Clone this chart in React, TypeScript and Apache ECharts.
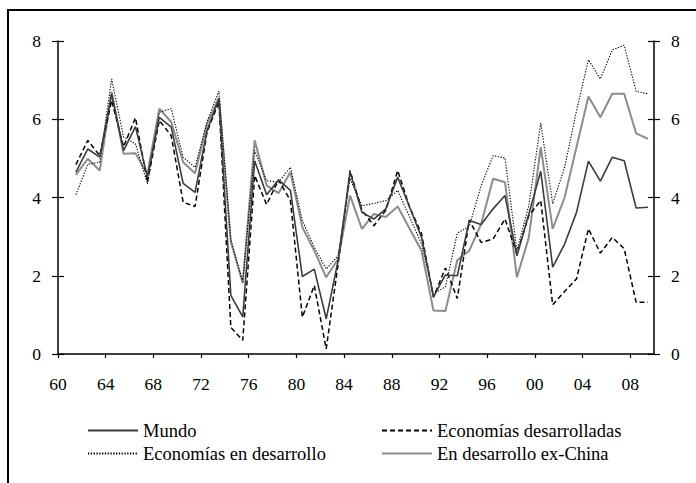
import React, { useEffect, useRef } from "react";
import * as echarts from "echarts";

const years = [
  1961, 1962, 1963, 1964, 1965, 1966, 1967, 1968, 1969, 1970,
  1971, 1972, 1973, 1974, 1975, 1976, 1977, 1978, 1979, 1980,
  1981, 1982, 1983, 1984, 1985, 1986, 1987, 1988, 1989, 1990,
  1991, 1992, 1993, 1994, 1995, 1996, 1997, 1998, 1999, 2000,
  2001, 2002, 2003, 2004, 2005, 2006, 2007, 2008, 2009,
];

const mundo = [
  4.65, 5.24, 5.03, 6.65, 5.2, 5.81, 4.52, 6.05, 5.8, 4.36,
  4.13, 5.71, 6.52, 1.5, 0.95, 4.94, 4.07, 4.45, 4.18, 1.98,
  2.17, 0.9, 2.39, 4.65, 3.62, 3.45, 3.71, 4.52, 3.75, 2.98,
  1.46, 2.02, 2.0, 3.41, 3.31, 3.71, 4.05, 2.51, 3.58, 4.67,
  2.22, 2.81, 3.62, 4.93, 4.42, 5.03, 4.94, 3.73, 3.75,
];

const desarrolladas = [
  4.84, 5.46, 5.07, 6.48, 5.3, 6.04, 4.39, 5.97, 5.58, 3.88,
  3.77, 5.67, 6.44, 0.68, 0.35, 4.56, 3.82, 4.45, 3.92, 0.94,
  1.75, 0.13, 2.3, 4.69, 3.67, 3.28, 3.67, 4.69, 3.75, 3.07,
  1.45, 2.2, 1.42, 3.42, 2.85, 2.94, 3.45, 2.56, 3.54, 3.92,
  1.26, 1.6, 1.92, 3.2, 2.58, 2.98, 2.69, 1.32, 1.32,
];

const enDesarrollo = [
  4.07, 4.85, 4.9, 7.03, 5.55, 5.37, 4.35, 6.18, 6.27, 5.03,
  4.77, 5.93, 6.72, 2.92, 1.85, 5.2, 4.43, 4.39, 4.77, 3.41,
  2.73, 2.17, 2.51, 4.48, 3.79, 3.85, 3.92, 4.18, 3.5, 2.81,
  1.53, 1.72, 3.09, 3.26, 4.3, 5.07, 5.01, 2.64, 3.8, 5.9,
  3.84, 4.77, 6.22, 7.52, 7.03, 7.77, 7.89, 6.71, 6.65,
];

const exChina = [
  4.58, 4.99, 4.69, 6.7, 5.12, 5.13, 4.6, 6.27, 5.93, 4.9,
  4.62, 5.88, 6.55, 2.87, 1.81, 5.46, 4.31, 4.11, 4.65, 3.24,
  2.64, 1.96, 2.43, 4.05, 3.2, 3.58, 3.5, 3.77, 3.2, 2.64,
  1.11, 1.1, 2.4, 2.64, 3.32, 4.48, 4.39, 1.96, 2.98, 5.29,
  3.2, 4.0, 5.29, 6.58, 6.05, 6.65, 6.65, 5.64, 5.5,
];

const seriesNames = [
  "Mundo",
  "Economías desarrolladas",
  "Economías en desarrollo",
  "En desarrollo ex-China",
];

const FONT = "Liberation Serif";

function pts(values: number[]) {
  return values.map((v, i) => [years[i] + 0.5, v]);
}

export default function App() {
  const ref = useRef<HTMLDivElement>(null);
  useEffect(() => {
    if (!ref.current) return;
    const chart = echarts.init(ref.current, null, { renderer: "svg" });
    const yBase = {
      type: "value",
      min: 0,
      max: 8,
      interval: 2,
      splitLine: { show: false },
    };
    const legendBase = {
      orient: "vertical",
      top: 421,
      itemWidth: 50,
      itemHeight: 14,
      itemGap: 4,
      padding: 0,
      itemStyle: { color: "transparent", borderWidth: 0, opacity: 0 },
      textStyle: { fontFamily: FONT, fontSize: 18.5, lineHeight: 18, color: "#000", padding: [0, 0, 0, 0] },
    };
    const option: any = {
      animation: false,
      backgroundColor: "#fff",
      textStyle: { fontFamily: FONT },
      grid: { left: 58, right: 42, top: 41, bottom: 129, containLabel: false },
      xAxis: {
        type: "value",
        min: 1960,
        max: 2010,
        interval: 4,
        splitLine: { show: false },
        axisLine: { show: true, lineStyle: { color: "#000", width: 1.5 } },
        axisTick: { show: true, inside: false, length: 4, lineStyle: { color: "#000", width: 1.2 } },
        axisLabel: {
          show: true,
          margin: 21,
          fontFamily: FONT,
          fontSize: 17.5,
          color: "#000",
          showMaxLabel: false,
          formatter: (v: number) =>
            v % 4 === 0 ? String(v % 100).padStart(2, "0") : "",
        },
      },
      yAxis: [
        {
          ...yBase,
          position: "left",
          axisLine: { show: true, lineStyle: { color: "#000", width: 1.5 } },
          axisTick: { show: true, inside: true, length: 6, lineStyle: { color: "#000", width: 1.2 } },
          axisLabel: { show: true, margin: 17, fontFamily: FONT, fontSize: 17.5, color: "#000" },
        },
        {
          ...yBase,
          position: "right",
          axisLine: { show: true, lineStyle: { color: "#000", width: 1.5 } },
          axisTick: { show: true, inside: true, length: 6, lineStyle: { color: "#000", width: 1.2 } },
          axisLabel: { show: true, margin: 17, fontFamily: FONT, fontSize: 17.5, color: "#000" },
        },
        {
          ...yBase,
          position: "left",
          axisLine: { show: false },
          axisTick: { show: true, inside: false, length: 6, lineStyle: { color: "#000", width: 1.2 } },
          axisLabel: { show: false },
        },
        {
          ...yBase,
          position: "right",
          axisLine: { show: false },
          axisTick: { show: true, inside: false, length: 6, lineStyle: { color: "#000", width: 1.2 } },
          axisLabel: { show: false },
        },
      ],
      legend: [
        { ...legendBase, data: [seriesNames[0], seriesNames[2]], left: 87 },
        { ...legendBase, data: [seriesNames[1], seriesNames[3]], left: 381 },
      ],
      graphic: [
        {
          type: "rect",
          shape: { x: 8, y: 10, width: 720, height: 520 },
          style: { fill: "none", stroke: "#000", lineWidth: 2 },
          silent: true,
        },
      ],
      series: [
        {
          name: seriesNames[3],
          type: "line",
          data: pts(exChina),
          symbol: "none",
          color: "#8c8c8c",
          lineStyle: { color: "#8c8c8c", width: 2, type: "solid" },
          z: 2,
        },
        {
          name: seriesNames[2],
          type: "line",
          data: pts(enDesarrollo),
          symbol: "none",
          color: "#000",
          lineStyle: { color: "#000", width: 1.1, type: [1.3, 1.5] },
          z: 3,
        },
        {
          name: seriesNames[1],
          type: "line",
          data: pts(desarrolladas),
          symbol: "none",
          color: "#000",
          lineStyle: { color: "#000", width: 1.5, type: [5, 3] },
          z: 4,
        },
        {
          name: seriesNames[0],
          type: "line",
          data: pts(mundo),
          symbol: "none",
          color: "#3c3c3c",
          lineStyle: { color: "#3c3c3c", width: 1.6, type: "solid" },
          z: 5,
        },
      ],
    };
    chart.setOption(option);
    return () => chart.dispose();
  }, []);
  return <div ref={ref} style={{ width: 696, height: 483, position: "absolute", left: 0, top: 0 }} />;
}
